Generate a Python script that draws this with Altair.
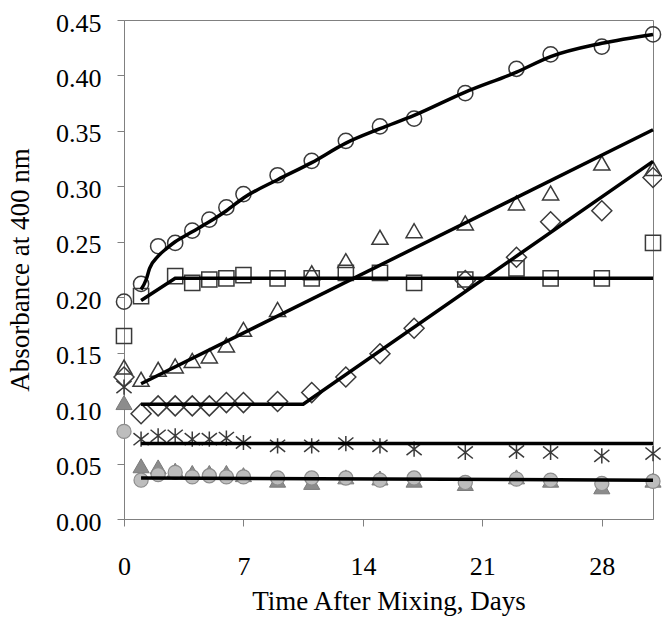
import altair as alt
import pandas as pd

days = [0, 1, 2, 3, 4, 5, 6, 7, 9, 11, 13, 15, 17, 20, 23, 25, 28, 31]

circles = [0.196, 0.212, 0.246, 0.249, 0.260, 0.270, 0.281, 0.293, 0.310, 0.323,
           0.341, 0.354, 0.361, 0.384, 0.406, 0.419, 0.426, 0.437]
squares = [0.165, 0.201, None, 0.219, 0.213, 0.216, 0.217, 0.220, 0.217, 0.217,
           0.222, 0.222, 0.213, 0.216, 0.226, 0.217, 0.217, 0.249]
triangles = [0.137, 0.126, 0.135, 0.138, 0.143, 0.147, 0.157, 0.171, 0.189, 0.222,
             0.233, 0.254, 0.260, 0.267, 0.285, 0.294, 0.321, 0.316]
diamonds = [0.128, 0.095, 0.102, 0.102, 0.102, 0.102, 0.105, 0.105, 0.106, 0.114,
            0.128, 0.149, 0.172, 0.215, 0.236, 0.268, 0.278, 0.308]
asterisks = [0.119, 0.072, 0.075, 0.075, 0.072, 0.072, 0.073, 0.069, 0.066, 0.066,
             0.068, 0.066, 0.063, 0.060, 0.061, 0.060, 0.057, 0.059]
grey_triangles = [0.105, 0.048, 0.047, 0.044, 0.042, 0.042, 0.042, 0.040, 0.035, 0.033,
                  0.038, 0.037, 0.035, 0.032, 0.038, 0.035, 0.029, 0.035]
grey_circles = [0.079, 0.035, 0.040, 0.042, 0.038, 0.039, 0.038, 0.038, 0.037, 0.037,
                0.037, 0.035, 0.037, 0.033, 0.036, 0.035, 0.032, 0.034]

# fitted trend lines
circle_fit_days = [1, 1.3, 1.5, 2, 2.5, 3, 4, 5, 6, 7, 9, 11, 13, 15, 17, 20, 23, 25, 28, 31]
circle_fit = [0.207, 0.216, 0.226, 0.237, 0.244, 0.250, 0.259, 0.268, 0.278, 0.2895,
              0.306, 0.3214, 0.339, 0.352, 0.364, 0.385, 0.403, 0.417, 0.429, 0.437]
square_fit_days = [1, 3, 31]
square_fit = [0.197, 0.217, 0.217]
triangle_fit_days = [1, 31]
triangle_fit = [0.122, 0.351]
diamond_fit_days = [1, 10.5, 31]
diamond_fit = [0.1035, 0.1035, 0.3225]
asterisk_fit_days = [1, 31]
asterisk_fit = [0.068, 0.068]
grey_fit_days = [1, 31]
grey_fit = [0.037, 0.035]

x_ticks = [0, 7, 14, 21, 28]
y_ticks = [0.0, 0.05, 0.10, 0.15, 0.20, 0.25, 0.30, 0.35, 0.40, 0.45]

FONT = "Liberation Serif"
AXIS_GREY = "#808080"
MARK = "#3a3a3a"

x_enc = alt.X("d:Q", scale=alt.Scale(domain=[0, 31], nice=False),
              axis=alt.Axis(values=x_ticks, title="Time After Mixing, Days",
                            labelPadding=27, tickSize=7, titleY=90, labelFlush=False,
                            titleBaseline="alphabetic"))
y_enc = alt.Y("v:Q", scale=alt.Scale(domain=[0, 0.45], nice=False),
              axis=alt.Axis(values=y_ticks, format=".2f", title="Absorbance at 400 nm",
                            labelPadding=16, tickSize=7, labelOffset=3,
                            titleX=-96, titleBaseline="alphabetic"))


def pts(vals, **kw):
    df = pd.DataFrame({"d": days, "v": vals}).dropna()
    return alt.Chart(df).mark_point(**kw).encode(x=x_enc, y=y_enc)


def fit(dd, vv, interp="linear"):
    df = pd.DataFrame({"d": dd, "v": vv})
    return alt.Chart(df).mark_line(color="black", strokeWidth=3.5,
                                   interpolate=interp).encode(x=x_enc, y=y_enc)


asterisk_path = "M-1,-0.8L1,0.8M-1,0.8L1,-0.8M0,-1L0,1"

layers = [
    pts(circles, shape="circle", size=230, filled=False, stroke=MARK, strokeWidth=1.5, opacity=1),
    pts(squares, shape="square", size=230, filled=False, stroke=MARK, strokeWidth=1.5, opacity=1),
    pts(triangles, shape="triangle-up", size=260, filled=False, stroke=MARK, strokeWidth=1.5, opacity=1),
    pts(diamonds, shape="diamond", size=400, filled=False, stroke=MARK, strokeWidth=1.5, opacity=1),
    pts(asterisks, shape=asterisk_path, size=230, filled=False, stroke=MARK, strokeWidth=1.5, opacity=1),
    pts(grey_triangles, shape="triangle-up", size=260, filled=True, fill="#8c8c8c",
        stroke="#7a7a7a", strokeWidth=1, opacity=1),
    pts(grey_circles, shape="circle", size=200, filled=True, fill="#bdbdbd",
        stroke="#8c8c8c", strokeWidth=1.2, opacity=1),
    fit(circle_fit_days, circle_fit, "monotone"),
    fit(square_fit_days, square_fit),
    fit(triangle_fit_days, triangle_fit),
    fit(diamond_fit_days, diamond_fit),
    fit(asterisk_fit_days, asterisk_fit),
    fit(grey_fit_days, grey_fit),
]

chart = alt.layer(*layers).properties(
    width=529, height=499,
    autosize=alt.AutoSizeParams(type="none"),
    padding={"left": 124, "top": 20, "right": 9, "bottom": 98},
).configure_view(
    stroke=AXIS_GREY, strokeWidth=1
).configure_axis(
    grid=False,
    domainColor=AXIS_GREY, tickColor=AXIS_GREY, domainWidth=1, tickWidth=1,
    labelFont=FONT, titleFont=FONT, labelFontSize=26, titleFontSize=27,
    labelColor="black", titleColor="black", titleFontWeight="normal",
)

chart.save("out.html", embed_options={"renderer": "svg", "actions": False})
